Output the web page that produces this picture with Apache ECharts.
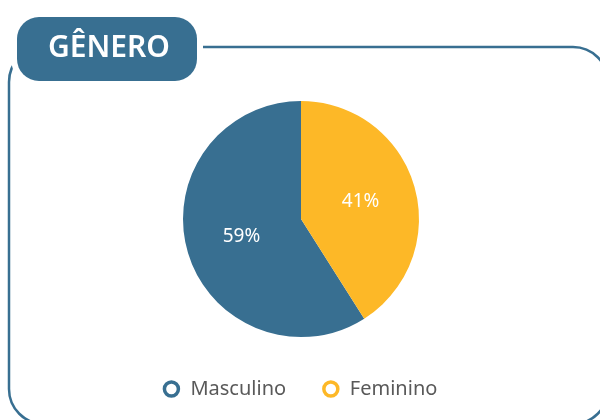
<!DOCTYPE html>
<html>
<head>
<meta charset="utf-8">
<script src="https://cdn.jsdelivr.net/npm/echarts@6/dist/echarts.min.js"></script>
<style>
  html, body { margin: 0; padding: 0; background: #fff; }
  #chart { width: 600px; height: 420px; }
</style>
</head>
<body>
<div id="chart"></div>
<script>
var titleText = 'GÊNERO';
var categories = ['Masculino', 'Feminino'];
var values = [59, 41];
var colors = ['#386f91', '#fdb827'];

var blue = '#386f91';
var chart = echarts.init(document.getElementById('chart'));

var pieData = [];
var legendData = [];
for (var i = 0; i < categories.length; i++) {
    pieData.push({ name: categories[i], value: values[i], itemStyle: { color: colors[i] } });
    legendData.push({
        name: categories[i],
        itemStyle: { color: '#fff', borderColor: colors[i], borderWidth: 3.5 }
    });
}

var option = {
    animation: false,
    legend: {
        data: legendData,
        left: 'center',
        top: 374,
        icon: 'circle',
        itemWidth: 14,
        itemHeight: 14,
        itemGap: 36,
        textStyle: {
            fontFamily: 'Noto Sans',
            fontSize: 20,
            color: '#595959',
            padding: [0, 0, 0, 7]
        }
    },
    graphic: [
        {
            type: 'rect',
            z: 1,
            shape: { x: 9, y: 47, width: 599, height: 377, r: 35 },
            style: { fill: 'none', stroke: blue, lineWidth: 2.5 }
        },
        // white gap round the tab
        {
            type: 'rect',
            z: 2,
            shape: { x: 11, y: 11, width: 192, height: 76, r: 28 },
            style: { fill: '#fff' }
        },
        {
            type: 'rect',
            z: 3,
            shape: { x: 17, y: 17, width: 180, height: 64, r: 22 },
            style: { fill: blue }
        },
        {
            type: 'text',
            z: 4,
            x: 109,
            y: 48,
            style: {
                text: titleText,
                fill: '#fff',
                font: '600 30px "Noto Sans"',
                textAlign: 'center',
                textVerticalAlign: 'middle'
            }
        }
    ],
    series: [{
        type: 'pie',
        center: [301, 219],
        radius: [0, 118],
        startAngle: 90,
        clockwise: false,
        label: {
            show: true,
            position: 'inside',
            formatter: '{c}%',
            color: '#fff',
            fontFamily: 'Noto Sans',
            fontSize: 19
        },
        labelLine: { show: false },
        emphasis: { disabled: true },
        itemStyle: { borderWidth: 0 },
        data: pieData
    }]
};

chart.setOption(option);
</script>
</body>
</html>
